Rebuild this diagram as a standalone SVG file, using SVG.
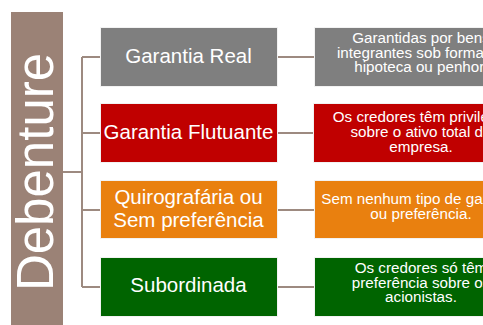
<svg xmlns="http://www.w3.org/2000/svg" width="483" height="325" viewBox="0 0 483 325">
<style>
.box{stroke:#f2f2f2;stroke-width:1}
.t{font-family:"Liberation Sans",Arial,sans-serif;fill:#fff;text-anchor:middle}
.m{font-size:20.5px}
.r{font-size:15.2px}
.c{stroke:#9d8a80;stroke-width:2;fill:none}
</style>
<rect width="483" height="325" fill="#fff"/>
<g id="debenture">
<rect x="11" y="12" width="52" height="320" fill="#9b8276"/>
<text class="t" transform="translate(53,172) rotate(-90)" font-size="51">Debenture</text>
</g>
<g id="connectors">
<path class="c" d="M63 172H82M82 57V287M82 57H100M82 133H100M82 210H100M82 287H100"/>
<path class="c" d="M277 57H314M277 133H314M277 210H314M277 287H314"/>
</g>
<g id="garantia-real">
<rect class="box" x="100.5" y="27.5" width="177" height="59" fill="#7f7f7f"/>
<text class="t m" x="188.5" y="63">Garantia Real</text>
</g>
<g id="garantia-flutuante">
<rect class="box" x="100.5" y="103.5" width="177" height="59" fill="#c00000"/>
<text class="t m" x="188.5" y="139">Garantia Flutuante</text>
</g>
<g id="quirografaria">
<rect class="box" x="100.5" y="180.5" width="177" height="58" fill="#e9800f"/>
<text class="t m" x="188.5" y="204">Quirografária ou</text>
<text class="t m" x="188.5" y="227">Sem preferência</text>
</g>
<g id="subordinada">
<rect class="box" x="100.5" y="257.5" width="177" height="59" fill="#006400"/>
<text class="t m" x="188.5" y="292">Subordinada</text>
</g>
<g id="desc-real">
<rect class="box" x="314.5" y="27.5" width="214" height="59" fill="#7f7f7f"/>
<text class="t r" x="421" y="43">Garantidas por bens</text>
<text class="t r" x="421" y="57.5">integrantes sob forma de</text>
<text class="t r" x="421" y="72">hipoteca ou penhor.</text>
</g>
<g id="desc-flutuante">
<rect class="box" x="313.5" y="103.5" width="214" height="59" fill="#c00000"/>
<text class="t r" x="421" y="122">Os credores têm privilégio</text>
<text class="t r" x="421" y="137">sobre o ativo total da</text>
<text class="t r" x="421" y="152">empresa.</text>
</g>
<g id="desc-quirografaria">
<rect class="box" x="314.5" y="180.5" width="214" height="58" fill="#e9800f"/>
<text class="t r" x="421" y="203.5">Sem nenhum tipo de garantia</text>
<text class="t r" x="421" y="218.5">ou preferência.</text>
</g>
<g id="desc-subordinada">
<rect class="box" x="314.5" y="257.5" width="214" height="59" fill="#006400"/>
<text class="t r" x="421" y="273">Os credores só têm</text>
<text class="t r" x="421" y="287.5">preferência sobre os</text>
<text class="t r" x="421" y="302">acionistas.</text>
</g>
</svg>
